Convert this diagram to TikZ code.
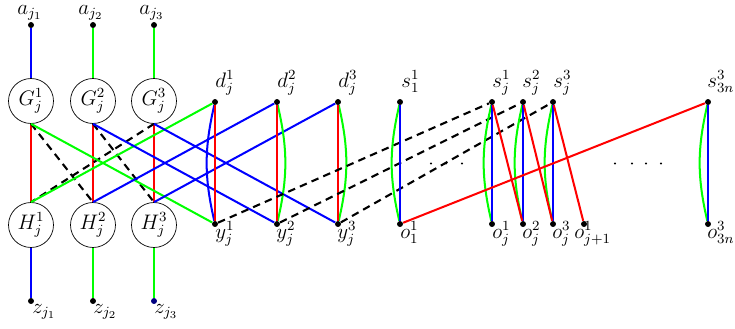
\documentclass[tikz,border=0pt]{standalone}
\definecolor{navydot}{rgb}{0,0,0.5}
\begin{document}
\begin{tikzpicture}[x=0.5714pt,y=-0.5714pt,
 every node/.style={font=\fontsize{12}{14}\selectfont},
 dot/.style={circle,fill=black,inner sep=0pt,minimum size=3.4pt},
 ball/.style={circle,draw,thin,minimum size=25.7pt,inner sep=0pt},
 lab/.style={inner sep=0pt,anchor=base west},
 ln/.style={line width=1.15pt},
 dsh/.style={line width=1.2pt,dash pattern=on 4.3pt off 3pt},
]
\useasboundingbox (0,0) rectangle (735,328);
% small dots (ellipsis)
\foreach \x in {431,446,462,615,632,646,661}{\fill (\x,163.5) circle (0.7pt);}
% circles
\node[ball] (G1) at (31,101) {$G_j^1$};
\node[ball] (G2) at (93,101) {$G_j^2$};
\node[ball] (G3) at (154,101) {$G_j^3$};
\node[ball] (H1) at (31,225) {$H_j^1$};
\node[ball] (H2) at (93,225) {$H_j^2$};
\node[ball] (H3) at (154,225) {$H_j^3$};
% dots
\node[dot] (a1) at (31,25) {};
\node[dot] (a2) at (93,25) {};
\node[dot] (a3) at (154,25) {};
\node[dot] (z1) at (31,301) {};
\node[dot] (z2) at (93,301) {};
\node[dot,fill=navydot] (z3) at (154,301) {};
\node[dot] (d1) at (215,102) {};
\node[dot] (d2) at (277,102) {};
\node[dot] (d3) at (338,102) {};
\node[dot] (y1) at (215,224) {};
\node[dot] (y2) at (277,224) {};
\node[dot] (y3) at (338,224) {};
\node[dot] (s11) at (400,102) {};
\node[dot] (sj1) at (492,102) {};
\node[dot] (sj2) at (523,102) {};
\node[dot] (sj3) at (553,102) {};
\node[dot] (s3n) at (708,102) {};
\node[dot] (o11) at (400,224) {};
\node[dot] (oj1) at (492,224) {};
\node[dot] (oj2) at (523,224) {};
\node[dot] (oj3) at (553,224) {};
\node[dot] (ojp) at (584,224) {};
\node[dot] (o3n) at (708,224) {};
% labels
\node[lab] (la1) at (17,14) {$a_{j_1}$};
\node[lab] (la2) at (78,14) {$a_{j_2}$};
\node[lab] (la3) at (139,14) {$a_{j_3}$};
\node[lab] (lz1) at (32,313) {$z_{j_1}$};
\node[lab] (lz2) at (93,313) {$z_{j_2}$};
\node[lab] (lz3) at (154,313) {$z_{j_3}$};
\node[lab] (ld1) at (215,87) {$d_j^1$};
\node[lab] (ld2) at (277,87) {$d_j^2$};
\node[lab] (ld3) at (338,87) {$d_j^3$};
\node[lab] (ly1) at (215,238) {$y_j^1$};
\node[lab] (ly2) at (276,238) {$y_j^2$};
\node[lab] (ly3) at (337,238) {$y_j^3$};
\node[lab] (ls11) at (401,87) {$s_1^1$};
\node[lab] (lsj1) at (492,87) {$s_j^1$};
\node[lab] (lsj2) at (522,87) {$s_j^2$};
\node[lab] (lsj3) at (553,87) {$s_j^3$};
\node[lab] (ls3n) at (707,87) {$s_{3n}^3$};
\node[lab] (lo11) at (400,238) {$o_1^1$};
\node[lab] (loj1) at (492,238) {$o_j^1$};
\node[lab] (loj2) at (522,238) {$o_j^2$};
\node[lab] (loj3) at (552,238) {$o_j^3$};
\node[lab] (lojp) at (574,238) {$o_{j+1}^1$};
\node[lab] (lo3n) at (707,238) {$o_{3n}^3$};
% vertical connectors to a and z
\draw[ln,blue] (a1) -- (G1);
\draw[ln,green] (a2) -- (G2);
\draw[ln,green] (a3) -- (G3);
\draw[ln,blue] (H1) -- (z1);
\draw[ln,green] (H2) -- (z2);
\draw[ln,green] (H3) -- (z3);
% G-H
\draw[ln,red] (G1.south) -- (H1.north);
\draw[ln,red] (G2.south) -- (H2.north);
\draw[ln,red] (G3.south) -- (H3.north);
\draw[dsh] (G1.south) -- (H2.north);
\draw[dsh] (G2.south) -- (H3.north);
\draw[dsh] (G3.south) -- (H1.north);
\draw[ln,green] (G1.south) -- (y1);
\draw[ln,green] (H1.north) -- (d1);
\draw[ln,blue] (G2.south) -- (y2);
\draw[ln,blue] (G3.south) -- (y3);
\draw[ln,blue] (H2.north) -- (d2);
\draw[ln,blue] (H3.north) -- (d3);
% d-y
\draw[ln,blue] (d1) to[bend right=13] (y1);
\draw[ln,red] (d1) -- (y1);
\draw[ln,green] (d2) to[bend left=13] (y2);
\draw[ln,red] (d2) -- (y2);
\draw[ln,green] (d3) to[bend left=13] (y3);
\draw[ln,red] (d3) -- (y3);
% dashed y-s
\draw[dsh] (y1) -- (sj1);
\draw[dsh] (y2) -- (sj2);
\draw[dsh] (y3) -- (sj3);
% s-o
\foreach \s/\o in {s11/o11,sj1/oj1,sj2/oj2,sj3/oj3,s3n/o3n}{
  \draw[ln,green] (\s) to[bend right=13] (\o);
  \draw[ln,blue] (\s) -- (\o);
}
\draw[ln,red] (sj1) -- (oj2);
\draw[ln,red] (sj2) -- (oj3);
\draw[ln,red] (sj3) -- (ojp);
\draw[ln,red] (o11) -- (s3n);
\end{tikzpicture}
\end{document}
